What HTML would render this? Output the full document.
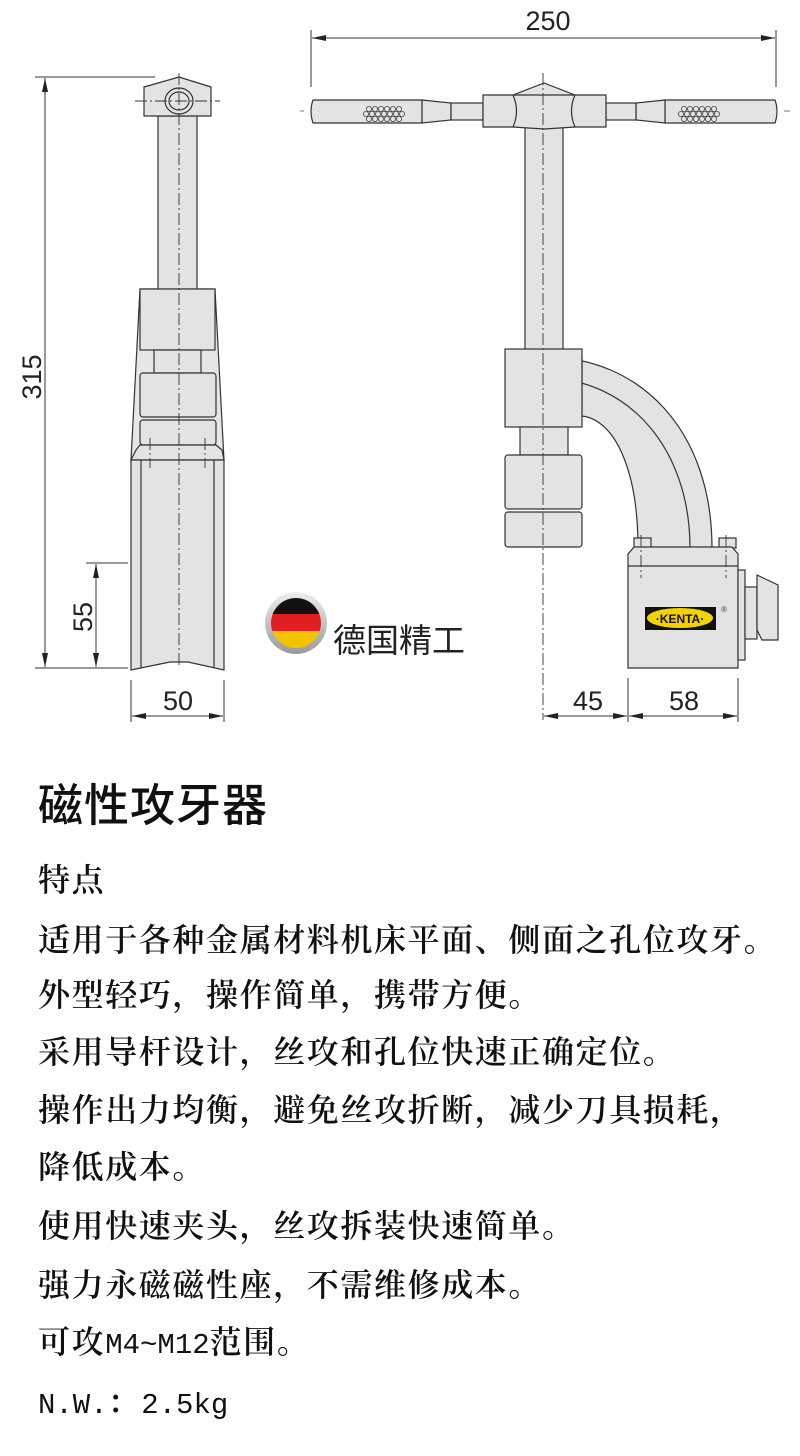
<!DOCTYPE html>
<html><head><meta charset="utf-8"><style>
body{margin:0;background:#fff;width:800px;height:1456px;position:relative;overflow:hidden}
svg{position:absolute;left:0;top:0}
.t{position:absolute;left:38px;font-family:"Noto Serif CJK SC","Liberation Serif",serif;font-weight:600;font-size:32px;line-height:32px;letter-spacing:1.6px;color:#111;white-space:nowrap}
.m{font-family:"Liberation Mono",monospace;font-size:29px;letter-spacing:0;font-weight:normal}
</style></head><body>
<svg width="800" height="740" viewBox="0 0 800 740" xmlns="http://www.w3.org/2000/svg">
<defs>
<marker id="a" viewBox="0 0 14 6" refX="14" refY="3" markerWidth="14" markerHeight="6" orient="auto-start-reverse" markerUnits="userSpaceOnUse"><path d="M0,0 L14,3 L0,6z" fill="#222"/></marker>
</defs>
<g fill="#e3e3e3" stroke="#333" stroke-width="1.2">
<path d="M140,289 L215,289 L224,460 L131,460 Z" fill="#e6e6e6"/>
<rect x="158" y="116" width="39" height="173"/>
<path d="M144,87 L179,77 L211,87 L211,116 L144,116Z"/>
<ellipse cx="179" cy="101" rx="14" ry="13"/>
<ellipse cx="179" cy="101" rx="10" ry="9"/>
<rect x="140" y="289" width="75" height="61"/>
<rect x="154" y="350" width="47" height="23"/>
<rect x="140" y="373" width="76" height="44" rx="3"/>
<rect x="140" y="420" width="76" height="25" rx="3"/>
<path d="M136,450 L140,445 L216,445 L222,450 L224,460 L131,460Z"/>
<path d="M131,460 L224,460 L224,670 L188,662 L170,662 L131,670Z"/>
<line x1="141" y1="460" x2="141" y2="668"/><line x1="214" y1="460" x2="214" y2="668"/>
<rect x="525" y="127" width="38" height="223"/>
<path d="M313,100 L422,100 L422,123 L313,123 Q309,111 313,100Z"/>
<path d="M422,100 L451,103 L451,120 L422,123Z"/>
<rect x="451" y="103" width="32" height="17"/>
<path d="M775,100 L665,100 L665,123 L775,123 Q779,111 775,100Z"/>
<path d="M665,100 L636,103 L636,120 L665,123Z"/>
<rect x="606" y="103" width="30" height="17"/>
<path d="M483,95 L513,95 L544,83 L575,95 L606,95 L606,127 L575,127 L544,129 L513,127 L483,127Z"/>
<path d="M513,95 Q520,111 513,127" fill="none"/><path d="M575,95 Q568,111 575,127" fill="none"/>
<line x1="513" y1="95" x2="575" y2="95"/>
<path d="M545,357 C640,357 712,430 712,548 L638,548 C638,470 615,420 582,416 L582,357Z"/>
<path d="M543,378 C630,378 690,450 690,548" fill="none"/>
<rect x="505" y="349" width="77" height="78"/>
<rect x="520" y="427" width="48" height="28"/>
<rect x="505" y="455" width="77" height="54" rx="3"/>
<rect x="505" y="512" width="77" height="35" rx="3"/>
<rect x="634" y="538" width="17" height="10"/><rect x="719" y="538" width="17" height="10"/>
<path d="M628,554 L634,547 L732,547 L738,554 L738,668 L628,668Z"/>
<line x1="628" y1="566" x2="738" y2="566"/>
<rect x="738" y="570" width="7" height="90"/>
<rect x="745" y="587" width="12" height="52"/>
<path d="M757,575 L778,585 L778,640 L762,640 L757,630Z"/>
</g>
<g fill="none" stroke="#444" stroke-width="0.8">
<g id="k"><circle cx="369" cy="109" r="2.6"/><circle cx="375" cy="109" r="2.6"/><circle cx="381" cy="109" r="2.6"/><circle cx="387" cy="109" r="2.6"/><circle cx="393" cy="109" r="2.6"/><circle cx="399" cy="109" r="2.6"/>
<circle cx="366" cy="114" r="2.6"/><circle cx="372" cy="114" r="2.6"/><circle cx="378" cy="114" r="2.6"/><circle cx="384" cy="114" r="2.6"/><circle cx="390" cy="114" r="2.6"/><circle cx="396" cy="114" r="2.6"/><circle cx="402" cy="114" r="2.6"/>
<circle cx="369" cy="119" r="2.6"/><circle cx="375" cy="119" r="2.6"/><circle cx="381" cy="119" r="2.6"/><circle cx="387" cy="119" r="2.6"/><circle cx="393" cy="119" r="2.6"/><circle cx="399" cy="119" r="2.6"/></g>
<use href="#k" transform="translate(315,0)"/>
</g>
<rect x="645" y="607" width="71" height="23" fill="#111"/>
<ellipse cx="680" cy="618" rx="33" ry="10" fill="#f2d200"/>
<text x="680" y="623" font-family="Liberation Sans,sans-serif" font-size="12" font-weight="bold" text-anchor="middle" fill="#111">·KENTA·</text>
<text x="721" y="612" font-family="Liberation Sans,sans-serif" font-size="8" fill="#333">®</text>
<g stroke="#333" stroke-width="0.9" stroke-dasharray="12,3,2,3" fill="none">
<line x1="179" y1="73" x2="179" y2="668"/><line x1="543" y1="73" x2="543" y2="720"/>
<line x1="135" y1="101" x2="220" y2="101"/>
<line x1="150" y1="438" x2="150" y2="468"/><line x1="205" y1="438" x2="205" y2="468"/>
<line x1="641" y1="535" x2="641" y2="578"/><line x1="726" y1="535" x2="726" y2="578"/>
</g>
<g stroke="#555" stroke-width="0.8"><line x1="300" y1="111" x2="304" y2="111"/><line x1="784" y1="111" x2="790" y2="111"/></g>
<g stroke="#333" stroke-width="1" fill="none">
<line x1="35" y1="77" x2="155" y2="77"/><line x1="35" y1="668" x2="128" y2="668"/>
<line x1="45" y1="78" x2="45" y2="667" marker-start="url(#a)" marker-end="url(#a)"/>
<line x1="86" y1="563" x2="128" y2="563"/>
<line x1="96" y1="564" x2="96" y2="667" marker-start="url(#a)" marker-end="url(#a)"/>
<line x1="131" y1="680" x2="131" y2="722"/><line x1="224" y1="680" x2="224" y2="722"/>
<line x1="132" y1="716" x2="223" y2="716" marker-start="url(#a)" marker-end="url(#a)"/>
<line x1="311" y1="30" x2="311" y2="87"/><line x1="776" y1="30" x2="776" y2="87"/>
<line x1="312" y1="38" x2="775" y2="38" marker-start="url(#a)" marker-end="url(#a)"/>
<line x1="628" y1="678" x2="628" y2="722"/><line x1="738" y1="678" x2="738" y2="722"/>
<line x1="544" y1="716" x2="627" y2="716" marker-start="url(#a)" marker-end="url(#a)"/>
<line x1="629" y1="716" x2="737" y2="716" marker-start="url(#a)" marker-end="url(#a)"/>
</g>
<g font-family="Liberation Sans,sans-serif" font-size="27" fill="#222" text-anchor="middle">
<text x="548" y="30">250</text>
<text x="178" y="710">50</text>
<text x="588" y="710">45</text>
<text x="684" y="710">58</text>
<text transform="translate(41,377) rotate(-90)">315</text>
<text transform="translate(92,617) rotate(-90)">55</text>
</g>
<defs><linearGradient id="g" x1="0" y1="0" x2="0" y2="1"><stop offset="0" stop-color="#eee"/><stop offset="1" stop-color="#999"/></linearGradient>
<clipPath id="c"><circle cx="296" cy="623" r="25"/></clipPath></defs>
<circle cx="296" cy="623" r="31" fill="url(#g)"/>
<g clip-path="url(#c)"><rect x="270" y="597" width="52" height="17" fill="#111"/><rect x="270" y="614" width="52" height="17" fill="#e02020"/><rect x="270" y="631" width="52" height="18" fill="#f4c400"/></g>
<text x="333" y="652" font-family="Liberation Sans,'Noto Sans CJK SC',sans-serif" font-size="33" fill="#222">德国精工</text>
</svg>
<div class="t" style="top:779px;font-family:'Noto Sans CJK SC',sans-serif;font-size:45px;line-height:46px;font-weight:500;letter-spacing:1px">磁性攻牙器</div>
<div class="t" style="top:862px">特点</div>
<div class="t" style="top:922px">适用于各种金属材料机床平面、侧面之孔位攻牙。</div>
<div class="t" style="top:977px">外型轻巧，操作简单，携带方便。</div>
<div class="t" style="top:1034px">采用导杆设计，丝攻和孔位快速正确定位。</div>
<div class="t" style="top:1092px">操作出力均衡，避免丝攻折断，减少刀具损耗，</div>
<div class="t" style="top:1149px">降低成本。</div>
<div class="t" style="top:1208px">使用快速夹头，丝攻拆装快速简单。</div>
<div class="t" style="top:1267px">强力永磁磁性座，不需维修成本。</div>
<div class="t" style="top:1324px">可攻<span class="m">M4~M12</span>范围。</div>
<div class="t" style="top:1384px"><span class="m">N.W.</span>：<span class="m">2.5kg</span></div>
</body></html>
